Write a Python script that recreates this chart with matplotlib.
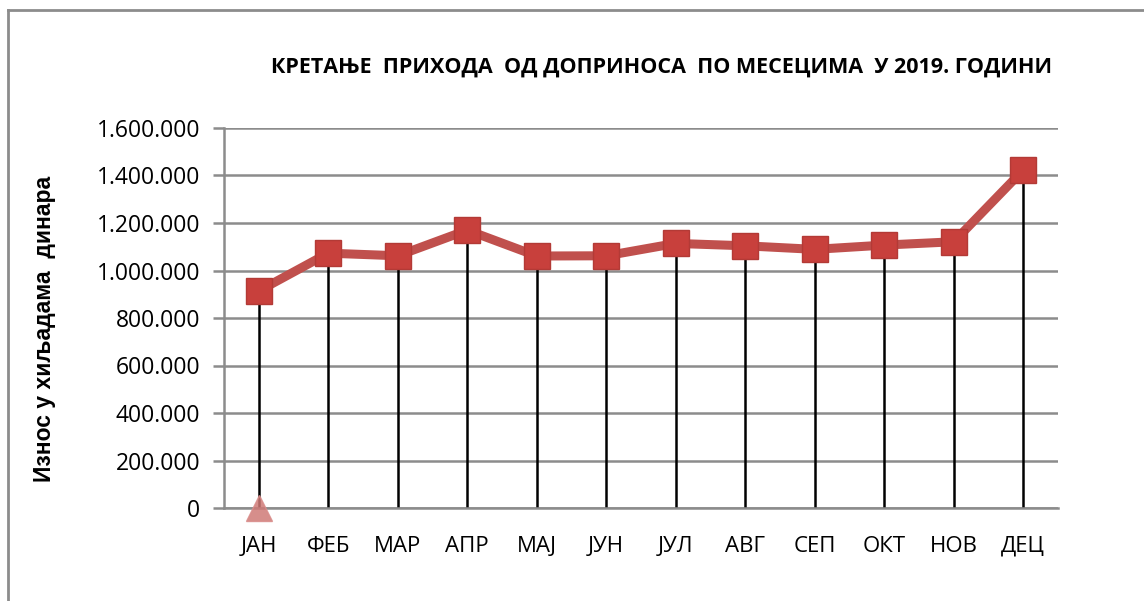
import matplotlib
matplotlib.use("Agg")
import matplotlib.pyplot as plt
from matplotlib.ticker import FuncFormatter, MultipleLocator
from matplotlib.lines import Line2D

months = ["ЈАН", "ФЕБ", "МАР", "АПР", "МАЈ", "ЈУН", "ЈУЛ", "АВГ", "СЕП", "ОКТ", "НОВ", "ДЕЦ"]
revenue = [914000, 1073000, 1062000, 1170000, 1061000, 1062000, 1114000, 1104000, 1089000, 1107000, 1121000, 1423000]
second_series = [0]  # single point at ЈАН
title = "КРЕТАЊЕ  ПРИХОДА  ОД ДОПРИНОСА  ПО МЕСЕЦИМА  У 2019. ГОДИНИ"
ylabel = "Износ у хиљадама  динара"

W, H = 1144, 601
fig = plt.figure(figsize=(W / 100, H / 100), dpi=100)
ax = fig.add_axes([224 / W, 1 - 508 / H, (1058 - 224) / W, (508 - 128) / H])

x = list(range(len(months)))
ax.set_xlim(-0.5, len(months) - 0.5)
ax.set_ylim(0, 1600000)

grid_c = "#8c8c8c"
ax.yaxis.set_major_locator(MultipleLocator(200000))
ax.grid(axis="y", color=grid_c, lw=1.8, zorder=0)
ax.set_axisbelow(True)
for s in ["top", "right"]:
    ax.spines[s].set_visible(False)
ax.spines["left"].set_color(grid_c)
ax.spines["left"].set_linewidth(1.8)
ax.spines["bottom"].set_color(grid_c)
ax.spines["bottom"].set_linewidth(1.8)
ax.tick_params(axis="y", length=8, width=1.8, color=grid_c, pad=9, labelsize=16.5)
ax.tick_params(axis="x", length=0, pad=20, labelsize=16)

ax.yaxis.set_major_formatter(FuncFormatter(lambda v, p: f"{int(v):,}".replace(",", ".")))
ax.set_xticks(x)
ax.set_xticklabels(months)
for lab in ax.get_xticklabels() + ax.get_yticklabels():
    lab.set_fontfamily("Open Sans")

# drop lines
ax.vlines(x, 0, revenue, colors="black", lw=1.8, zorder=2)

# main series
ax.plot(x, revenue, color="#c0504d", lw=6.5, zorder=3, solid_capstyle="butt")
ax.plot(x, revenue, ls="none", marker="s", ms=19, mfc="#c8403c", mec="#b33a36",
        mew=1, zorder=4)

# second series (single point)
ax.plot(x[:len(second_series)], second_series, ls="none", marker="^", ms=19,
        mfc="#cf7a77", mec="#d98c8a", alpha=0.85, zorder=4, clip_on=False)

fig.text(662 / W, 1 - 67 / H, title, ha="center", va="center", fontsize=15.5,
         fontweight="bold", family="Open Sans")
fig.text(45 / W, 1 - 329 / H, ylabel, ha="center", va="center", rotation=90,
         fontsize=16.5, fontweight="bold", family="Liberation Sans")

# outer border (partially visible)
bc = "#8c8c8c"
fig.add_artist(Line2D([8 / W, 1], [1 - 10 / H, 1 - 10 / H], color=bc, lw=2,
                      transform=fig.transFigure))
fig.add_artist(Line2D([8 / W, 8 / W], [0, 1 - 10 / H], color=bc, lw=2,
                      transform=fig.transFigure))

fig.savefig("out.png", dpi=100)
